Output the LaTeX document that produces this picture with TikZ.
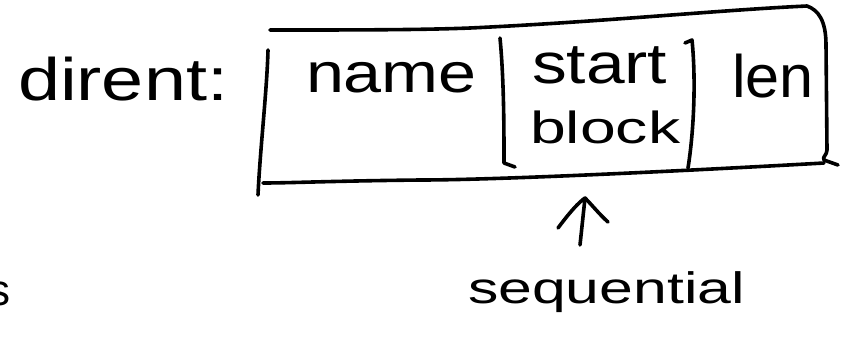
\documentclass[tikz,border=0pt]{standalone}
\usepackage{fontspec}
\setmainfont{Liberation Sans}
\usetikzlibrary{arrows.meta}
\tikzset{
  ink/.style={line width=3.6pt, line cap=round, line join=round, black},
  hw/.style={anchor=base west, inner sep=0pt, outer sep=0pt},
}
\newcommand{\hwtext}[4]{\scalebox{#1}[#2]{\fontsize{#3}{#3}\selectfont #4}}
\begin{document}
\begin{tikzpicture}[x=1pt,y=-1pt]
\useasboundingbox (0,0) rectangle (846,346);
\clip (0,0) rectangle (846,346);
\fill[white] (0,0) rectangle (846,346);
% texts
\node[hw] (dirent) at (18,100) {\hwtext{1.26}{1}{60pt}{dirent:}};
\node[hw] (name) at (306,92) {\hwtext{1.22}{1}{56pt}{name}};
\node[hw] (start) at (532,83) {\hwtext{1.22}{1}{57pt}{start}};
\node[hw] (block) at (530,143) {\hwtext{1.43}{1}{45pt}{block}};
\node[hw] (len) at (732,97) {\hwtext{1.02}{1}{60pt}{len}};
\node[hw] (seq) at (468,303) {\hwtext{1.38}{1}{44pt}{sequential}};
\node[hw] (s) at (-12,305) {\hwtext{1}{1}{44pt}{s}};
% box
\draw[ink] (270,30) .. controls (350,30) and (420,30) .. (470,28)
   .. controls (600,22) and (720,10) .. (807,6)
   .. controls (818,10) and (826,20) .. (826,45)
   -- (827,150) .. controls (827,155) and (822,157) .. (824,160) -- (838,165);
\draw[ink] (824,163) .. controls (700,170) and (500,180) .. (420,180)
   .. controls (330,181) and (290,183) .. (263,183);
\draw[ink] (268,50) .. controls (267,90) and (260,150) .. (258,195);
% dividers
\draw[ink] (500,38) .. controls (504,80) and (504,130) .. (504,163) -- (515,167);
\draw[ink] (685,43) -- (692,40) .. controls (696,80) and (694,130) .. (688,168);
% arrow
\coordinate (tail) at (580,245);
\coordinate (tip) at (585,198);
\draw[ink] (tail) -- (tip);
\draw[ink] (558,228) .. controls (570,212) and (578,203) .. (tip) .. controls (592,205) and (600,215) .. (608,222);
\end{tikzpicture}
\end{document}
